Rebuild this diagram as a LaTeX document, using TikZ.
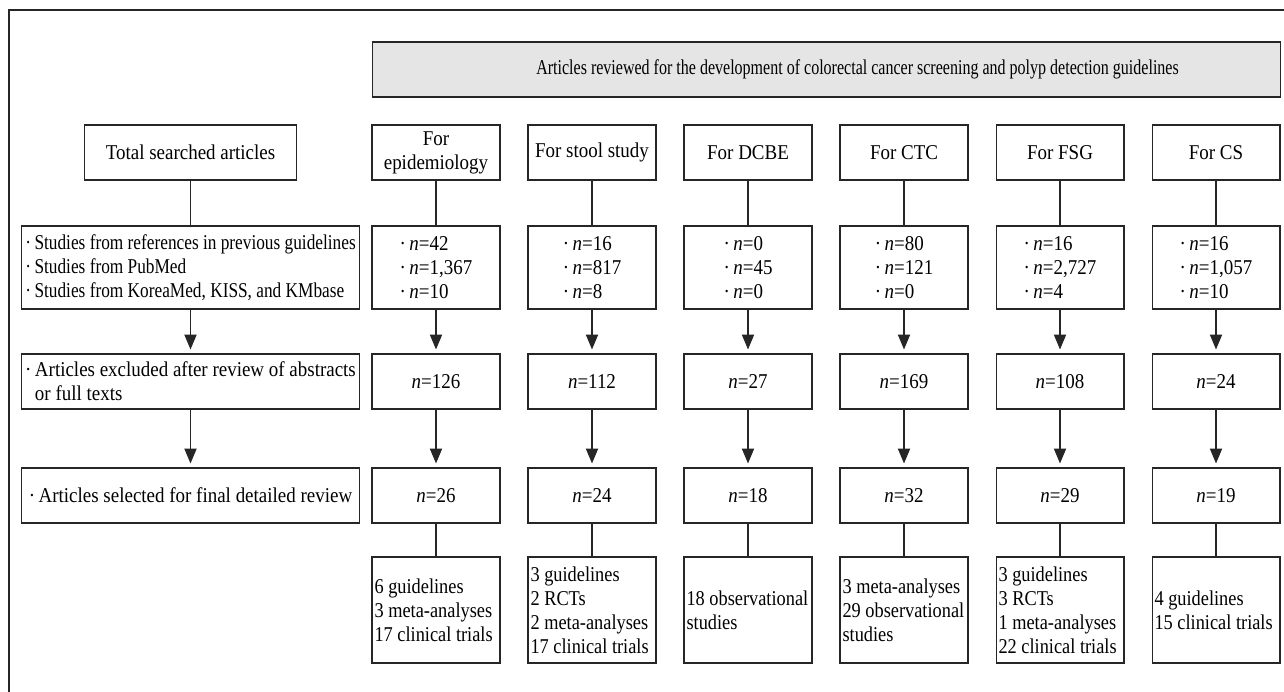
\documentclass[tikz,border=0pt]{standalone}
\usepackage{fontspec}
\setmainfont{Liberation Serif}[FakeStretch=0.9]
\newfontfamily\narrowfont{Liberation Serif}[FakeStretch=0.82]
\newfontfamily\typefont{Liberation Serif}[FakeStretch=0.87]
\newfontfamily\headfont{Liberation Serif}[FakeStretch=0.76]
\usetikzlibrary{arrows.meta}
\newcommand{\boxfont}{\fontsize{12}{13.7}\selectfont}
\newcommand{\fontgap}{\spaceskip=\fontdimen2\font plus\fontdimen3\font minus\fontdimen4\font\relax}
\tikzset{%
  block/.style   = {draw=black!85, line width=0.6pt, rectangle, inner sep=0pt,
    font=\boxfont, align=center, execute at begin node=\fontgap},
  colbox/.style  = {block, minimum width=2.56cm, minimum height=1.1cm},
  srcbox/.style  = {block, minimum width=2.56cm, minimum height=1.66cm, align=left},
  leftbox/.style = {block, minimum width=6.78cm, minimum height=1.1cm, align=left},
  typebox/.style = {block, text width=2.46cm, inner xsep=0.05cm,
    minimum height=2.12cm, align=left, font={\typefont\boxfont}},
  link/.style    = {draw=black!85, line width=0.6pt},
  arrow/.style   = {link, -{Triangle[length=8.5pt, width=7pt]}, shorten >=2.3pt}
}

\begin{document}
\begin{tikzpicture}[x=0.02cm, y=-0.02cm]
    \useasboundingbox (0,0) rectangle (1284,692);
    \clip (0,0) rectangle (1284,692);
    \draw[black!85, line width=0.6pt] (9,10) rectangle (1300,710);

    %header
    \node[block, fill=black!10, minimum width=18.18cm, minimum height=1.1cm,
        font={\headfont\boxfont}] (hdr) at (826.5,69.5)
        {\hspace*{1.24cm}Articles reviewed for the development of colorectal cancer screening and polyp detection guidelines};

    %total searched
    \node[block, minimum width=4.24cm, minimum height=1.1cm] (total) at (190.5,152.5) {Total searched articles};
    \node[leftbox, minimum height=1.66cm, font={\narrowfont\boxfont}] (src) at (190.5,267.5)
        {·\,Studies from references in previous guidelines\\·\,Studies from PubMed\\·\,Studies from KoreaMed, KISS, and KMbase};
    \node[leftbox] (excl) at (190.5,381.5) {·\,Articles excluded after review of abstracts\\\phantom{·\,}or full texts};
    \node[leftbox] (sel) at (190.5,495.5) {·\,Articles selected for final detailed review};
    \draw[link] (total) -- (src);
    \draw[arrow] (src) -- (excl);
    \draw[arrow] (excl) -- (sel);

    %epidemiology
    \node[colbox] (epi1) at (436,152.5) {For\\epidemiology};
    \node[srcbox] (epi2) at (436,267.5) {·\,\textit{n}=42\\·\,\textit{n}=1,367\\·\,\textit{n}=10};
    \node[colbox] (epi3) at (436,381.5) {\textit{n}=126};
    \node[colbox] (epi4) at (436,495.5) {\textit{n}=26};
    \node[typebox] (epi5) at (436,610) {6 guidelines\\3 meta-analyses\\17 clinical trials};
    \draw[link] (epi1) -- (epi2);
    \draw[arrow] (epi2) -- (epi3);
    \draw[arrow] (epi3) -- (epi4);
    \draw[link] (epi4) -- (epi5);

    %stool study
    \node[colbox] (stool1) at (592,152.5) {For stool study};
    \node[srcbox] (stool2) at (592,267.5) {·\,\textit{n}=16\\·\,\textit{n}=817\\·\,\textit{n}=8};
    \node[colbox] (stool3) at (592,381.5) {\textit{n}=112};
    \node[colbox] (stool4) at (592,495.5) {\textit{n}=24};
    \node[typebox] (stool5) at (592,610) {3 guidelines\\2 RCTs\\2 meta-analyses\\17 clinical trials};
    \draw[link] (stool1) -- (stool2);
    \draw[arrow] (stool2) -- (stool3);
    \draw[arrow] (stool3) -- (stool4);
    \draw[link] (stool4) -- (stool5);

    %DCBE
    \node[colbox] (dcbe1) at (748,152.5) {For DCBE};
    \node[srcbox] (dcbe2) at (748,267.5) {·\,\textit{n}=0\\·\,\textit{n}=45\\·\,\textit{n}=0};
    \node[colbox] (dcbe3) at (748,381.5) {\textit{n}=27};
    \node[colbox] (dcbe4) at (748,495.5) {\textit{n}=18};
    \node[typebox] (dcbe5) at (748,610) {18 observational\\studies};
    \draw[link] (dcbe1) -- (dcbe2);
    \draw[arrow] (dcbe2) -- (dcbe3);
    \draw[arrow] (dcbe3) -- (dcbe4);
    \draw[link] (dcbe4) -- (dcbe5);

    %CTC
    \node[colbox] (ctc1) at (904,152.5) {For CTC};
    \node[srcbox] (ctc2) at (904,267.5) {·\,\textit{n}=80\\·\,\textit{n}=121\\·\,\textit{n}=0};
    \node[colbox] (ctc3) at (904,381.5) {\textit{n}=169};
    \node[colbox] (ctc4) at (904,495.5) {\textit{n}=32};
    \node[typebox] (ctc5) at (904,610) {3 meta-analyses\\29 observational\\studies};
    \draw[link] (ctc1) -- (ctc2);
    \draw[arrow] (ctc2) -- (ctc3);
    \draw[arrow] (ctc3) -- (ctc4);
    \draw[link] (ctc4) -- (ctc5);

    %FSG
    \node[colbox] (fsg1) at (1060,152.5) {For FSG};
    \node[srcbox] (fsg2) at (1060,267.5) {·\,\textit{n}=16\\·\,\textit{n}=2,727\\·\,\textit{n}=4};
    \node[colbox] (fsg3) at (1060,381.5) {\textit{n}=108};
    \node[colbox] (fsg4) at (1060,495.5) {\textit{n}=29};
    \node[typebox] (fsg5) at (1060,610) {3 guidelines\\3 RCTs\\1 meta-analyses\\22 clinical trials};
    \draw[link] (fsg1) -- (fsg2);
    \draw[arrow] (fsg2) -- (fsg3);
    \draw[arrow] (fsg3) -- (fsg4);
    \draw[link] (fsg4) -- (fsg5);

    %CS
    \node[colbox] (cs1) at (1216,152.5) {For CS};
    \node[srcbox] (cs2) at (1216,267.5) {·\,\textit{n}=16\\·\,\textit{n}=1,057\\·\,\textit{n}=10};
    \node[colbox] (cs3) at (1216,381.5) {\textit{n}=24};
    \node[colbox] (cs4) at (1216,495.5) {\textit{n}=19};
    \node[typebox] (cs5) at (1216,610) {4 guidelines\\15 clinical trials};
    \draw[link] (cs1) -- (cs2);
    \draw[arrow] (cs2) -- (cs3);
    \draw[arrow] (cs3) -- (cs4);
    \draw[link] (cs4) -- (cs5);
\end{tikzpicture}
\end{document}
